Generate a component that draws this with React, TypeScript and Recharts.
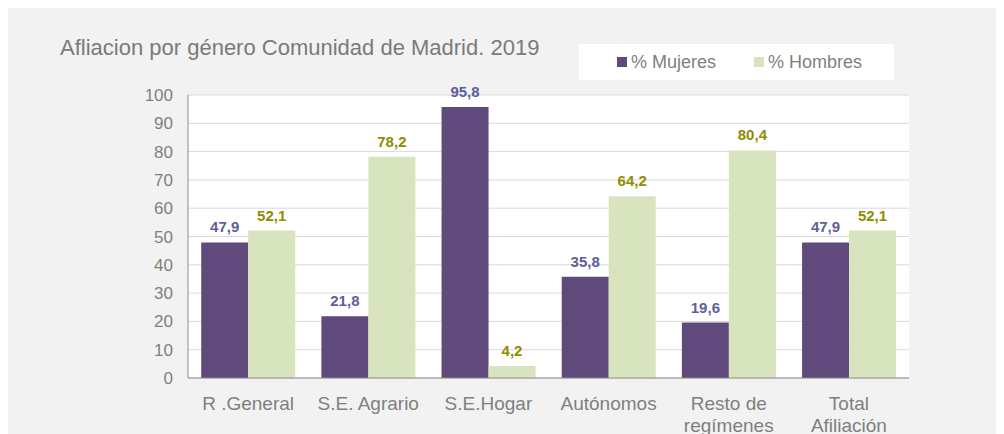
import React from 'react';
import { BarChart, Bar, XAxis, YAxis, CartesianGrid, Legend, LabelList } from 'recharts';

const categories = ['R .General', 'S.E. Agrario', 'S.E.Hogar', 'Autónomos', 'Resto de regímenes', 'Total Afiliación'];
const mujeres = [47.9, 21.8, 95.8, 35.8, 19.6, 47.9];
const hombres = [52.1, 78.2, 4.2, 64.2, 80.4, 52.1];
const yTicks = [0, 10, 20, 30, 40, 50, 60, 70, 80, 90, 100];

const data = categories.map((name, i) => ({ name, mujeres: mujeres[i], hombres: hombres[i] }));

const FONT = '"Liberation Sans", Arial, sans-serif';
const GREY = '#7f7f7f';

const fmt = (v: number) => v.toFixed(1).replace('.', ',');

// long labels wrap at the last space, like the original
function splitLabel(s: string) {
  if (s.length <= 14) return [s];
  const i = s.lastIndexOf(' ');
  return i > 0 ? [s.slice(0, i), s.slice(i + 1)] : [s];
}

function CategoryTick({ x, y, payload }: any) {
  const lines = splitLabel(String(payload.value));
  return (
    <text x={x} y={y + 32} textAnchor="middle" style={{ fontSize: 19, fill: GREY, fontFamily: FONT }}>
      {lines.map((l, i) => (
        <tspan key={i} x={x} dy={i === 0 ? 0 : 22}>
          {l}
        </tspan>
      ))}
    </text>
  );
}

function LegendBox() {
  const items = [
    { label: '% Mujeres', color: '#604a7b', left: 38 },
    { label: '% Hombres', color: '#d7e4bd', left: 175 },
  ];
  return (
    <div style={{ position: 'relative', width: 315, height: 36, background: '#fff' }}>
      {items.map((it) => (
        <div
          key={it.label}
          style={{ position: 'absolute', left: it.left, top: 0, height: 36, display: 'flex', alignItems: 'center' }}
        >
          <span style={{ width: 10, height: 10, background: it.color, marginRight: 4, display: 'inline-block' }} />
          <span style={{ fontSize: 18, color: GREY, fontFamily: FONT }}>{it.label}</span>
        </div>
      ))}
    </div>
  );
}

export default function App() {
  return (
    <div style={{ position: 'relative', width: 996, height: 426, background: '#f2f2f2', fontFamily: FONT }}>
      <div style={{ position: 'absolute', left: 52, top: 27, fontSize: 22, lineHeight: '26px', color: '#7a7a7a' }}>
        Afliacion por género Comunidad de Madrid. 2019
      </div>
      <BarChart
        width={996}
        height={426}
        data={data}
        margin={{ top: 87, right: 95, left: 0, bottom: 0 }}
        barCategoryGap="11%"
        barGap={0}
      >
        <CartesianGrid vertical={false} stroke="#d9d9d9" fill="#ffffff" />
        <XAxis
          dataKey="name"
          height={56}
          interval={0}
          tickLine={false}
          tickSize={0}
          tickMargin={0}
          axisLine={{ stroke: '#8c8c8c' }}
          tick={<CategoryTick />}
        />
        <YAxis
          width={180}
          domain={[0, 100]}
          ticks={yTicks}
          interval={0}
          tickLine={false}
          tickSize={0}
          tickMargin={15}
          axisLine={{ stroke: '#8c8c8c' }}
          tick={{ fontSize: 17, fill: GREY, fontFamily: FONT }}
        />
        <Legend
          layout="horizontal"
          verticalAlign="middle"
          align="center"
          content={<LegendBox />}
          wrapperStyle={{ position: 'absolute', left: 571, top: 36, width: 315, height: 36 }}
        />
        <Bar dataKey="mujeres" name="% Mujeres" fill="#604a7b" isAnimationActive={false}>
          <LabelList
            dataKey="mujeres"
            position="top"
            offset={10}
            formatter={(v: any) => fmt(Number(v))}
            style={{ fontSize: 15, fontWeight: 700, fill: '#5e5e9c', fontFamily: FONT }}
          />
        </Bar>
        <Bar dataKey="hombres" name="% Hombres" fill="#d7e4bd" isAnimationActive={false}>
          <LabelList
            dataKey="hombres"
            position="top"
            offset={10}
            formatter={(v: any) => fmt(Number(v))}
            style={{ fontSize: 15, fontWeight: 700, fill: '#8f8c00', fontFamily: FONT }}
          />
        </Bar>
      </BarChart>
    </div>
  );
}
